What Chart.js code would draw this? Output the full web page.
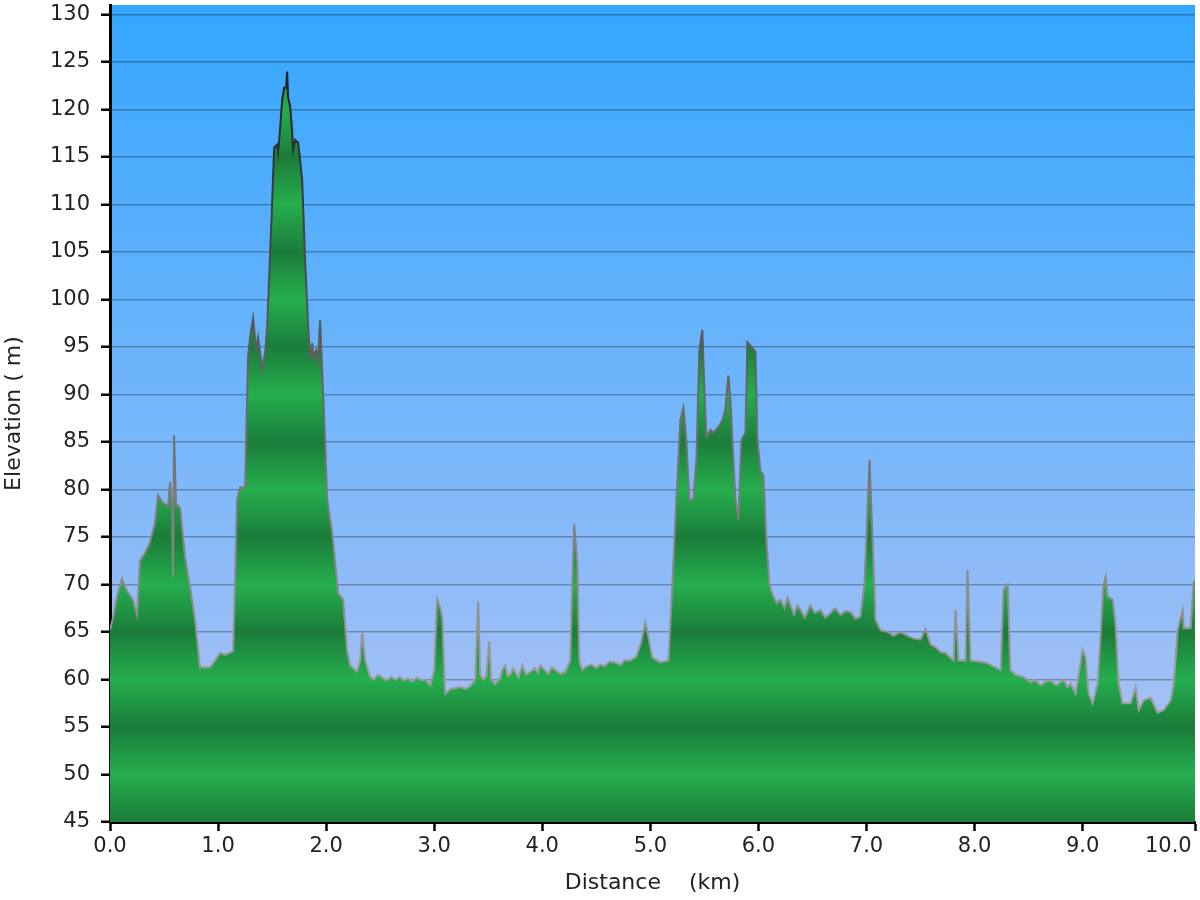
<!DOCTYPE html>
<html>
<head>
<meta charset="utf-8">
<script src="https://cdn.jsdelivr.net/npm/chart.js@4/dist/chart.umd.min.js"></script>
<style>
  html, body { margin: 0; padding: 0; background: #fff; }
  #wrap { width: 1200px; height: 900px; }
</style>
</head>
<body>
<div id="wrap"><canvas id="chart" width="1200" height="900"></canvas></div>
<script>
// distance along the route (km)
const distances = [
  0.000, 0.028, 0.065, 0.111, 0.157, 0.213, 0.250, 0.278, 0.324, 0.370,
  0.417, 0.444, 0.481, 0.537, 0.556, 0.574, 0.583, 0.593, 0.611, 0.648,
  0.694, 0.741, 0.787, 0.833, 0.926, 0.972, 1.019, 1.065, 1.139, 1.157,
  1.176, 1.204, 1.250, 1.278, 1.296, 1.324, 1.352, 1.370, 1.389, 1.407,
  1.435, 1.454, 1.481, 1.500, 1.519, 1.546, 1.556, 1.574, 1.593, 1.611,
  1.630, 1.639, 1.648, 1.667, 1.685, 1.694, 1.713, 1.741, 1.759, 1.778,
  1.806, 1.833, 1.852, 1.870, 1.880, 1.907, 1.926, 1.944, 1.963, 1.991,
  2.009, 2.056, 2.111, 2.157, 2.194, 2.222, 2.287, 2.315, 2.333, 2.361,
  2.407, 2.440, 2.480, 2.520, 2.560, 2.600, 2.640, 2.680, 2.720, 2.760,
  2.800, 2.840, 2.880, 2.920, 2.963, 3.000, 3.028, 3.056, 3.074, 3.102,
  3.148, 3.200, 3.241, 3.290, 3.333, 3.380, 3.407, 3.426, 3.450, 3.481,
  3.509, 3.528, 3.565, 3.611, 3.630, 3.657, 3.680, 3.704, 3.730, 3.750,
  3.780, 3.815, 3.850, 3.889, 3.930, 3.960, 3.981, 4.020, 4.056, 4.090,
  4.120, 4.170, 4.213, 4.259, 4.278, 4.296, 4.324, 4.343, 4.370, 4.398,
  4.450, 4.500, 4.537, 4.580, 4.620, 4.676, 4.720, 4.760, 4.815, 4.870,
  4.917, 4.954, 4.981, 5.019, 5.093, 5.167, 5.204, 5.241, 5.278, 5.306,
  5.333, 5.361, 5.398, 5.426, 5.454, 5.481, 5.500, 5.519, 5.556, 5.583,
  5.630, 5.667, 5.694, 5.722, 5.741, 5.759, 5.787, 5.815, 5.843, 5.880,
  5.898, 5.935, 5.972, 5.991, 6.019, 6.046, 6.074, 6.102, 6.130, 6.170,
  6.204, 6.240, 6.270, 6.296, 6.330, 6.360, 6.389, 6.430, 6.481, 6.520,
  6.574, 6.620, 6.667, 6.710, 6.760, 6.810, 6.852, 6.900, 6.944, 6.981,
  7.000, 7.028, 7.056, 7.083, 7.130, 7.200, 7.250, 7.315, 7.380, 7.440,
  7.500, 7.546, 7.593, 7.640, 7.685, 7.730, 7.778, 7.806, 7.824, 7.852,
  7.917, 7.935, 7.963, 8.102, 8.241, 8.269, 8.306, 8.333, 8.380, 8.450,
  8.519, 8.560, 8.611, 8.660, 8.704, 8.760, 8.824, 8.860, 8.889, 8.935,
  9.000, 9.028, 9.056, 9.093, 9.139, 9.167, 9.194, 9.213, 9.231, 9.278,
  9.306, 9.333, 9.370, 9.444, 9.491, 9.519, 9.565, 9.630, 9.694, 9.750,
  9.815, 9.843, 9.880, 9.926, 9.935, 10.000, 10.028, 10.040
];

// elevation (m)
const elevations = [
  65.2, 66.5, 68.7, 70.6, 69.3, 68.4, 66.8, 72.5, 73.3, 74.4,
  76.5, 79.4, 78.7, 78.2, 80.8, 78.0, 70.8, 85.7, 78.5, 78.0,
  72.9, 69.7, 66.3, 61.3, 61.3, 62.0, 62.8, 62.6, 63.0, 70.0,
  78.9, 80.2, 80.2, 94.0, 96.0, 98.0, 94.7, 96.0, 94.4, 92.6,
  94.4, 97.0, 104.7, 110.0, 116.0, 116.3, 115.4, 118.0, 121.0, 122.3,
  122.3, 124.0, 121.3, 120.3, 117.8, 115.7, 116.8, 116.5, 114.7, 112.6,
  104.0, 97.5, 93.6, 95.4, 94.0, 94.7, 93.6, 97.8, 92.6, 85.0,
  79.0, 75.4, 69.1, 68.4, 63.1, 61.5, 60.8, 62.0, 64.9, 62.0,
  60.3, 60.0, 60.5, 60.2, 59.9, 60.3, 60.0, 60.3, 59.9, 60.1,
  59.8, 60.2, 59.9, 60.0, 59.4, 61.0, 68.4, 67.5, 66.5, 58.5,
  59.0, 59.1, 59.2, 59.0, 59.3, 60.0, 68.2, 60.5, 60.0, 60.3,
  64.0, 60.0, 59.5, 60.2, 61.0, 61.5, 60.4, 60.5, 61.2, 60.8,
  60.2, 61.5, 60.5, 60.8, 61.2, 60.7, 61.5, 61.0, 60.6, 61.3,
  61.0, 60.6, 60.8, 62.0, 70.0, 76.3, 72.0, 62.0, 61.0, 61.3,
  61.6, 61.2, 61.6, 61.4, 61.9, 61.8, 61.5, 62.0, 62.0, 62.4,
  64.0, 66.0, 64.5, 62.3, 61.8, 62.0, 70.0, 78.9, 87.3, 88.6,
  85.2, 78.9, 79.0, 83.1, 94.7, 96.8, 90.5, 85.5, 86.3, 86.0,
  86.6, 87.3, 88.4, 92.0, 89.4, 85.2, 79.0, 76.8, 85.2, 86.0,
  95.5, 95.0, 94.5, 85.2, 82.0, 81.5, 74.7, 70.0, 68.9, 68.0,
  68.4, 67.5, 68.6, 67.8, 66.8, 67.8, 67.3, 66.5, 67.8, 67.0,
  67.3, 66.5, 67.0, 67.5, 66.8, 67.2, 67.1, 66.4, 66.6, 70.0,
  74.7, 83.1, 74.7, 66.3, 65.2, 65.0, 64.6, 65.0, 64.6, 64.3,
  64.2, 65.3, 63.7, 63.4, 62.9, 62.8, 62.3, 62.0, 67.3, 62.0,
  62.0, 71.5, 62.0, 61.8, 61.0, 69.4, 70.0, 61.0, 60.5, 60.3,
  59.7, 60.0, 59.4, 59.8, 59.9, 59.4, 60.0, 59.2, 59.6, 58.5,
  63.1, 62.3, 58.5, 57.5, 59.6, 64.8, 69.9, 70.8, 68.7, 68.4,
  65.6, 59.6, 57.5, 57.5, 59.2, 56.8, 57.8, 58.1, 56.5, 56.8,
  57.8, 59.6, 65.2, 67.3, 65.4, 65.4, 70.2, 70.5
];

const xTickValues = [0, 1, 2, 3, 4, 5, 6, 7, 8, 9, 10.04];
const xTickLabels = ['0.0', '1.0', '2.0', '3.0', '4.0', '5.0', '6.0', '7.0', '8.0', '9.0', '10.0        '];
const yTickValues = [45, 50, 55, 60, 65, 70, 75, 80, 85, 90, 95, 100, 105, 110, 115, 120, 125, 130];

const yMin = 45, yMax = 131;
const tickFont = { family: 'DejaVu Sans, Verdana, sans-serif', size: 21 };
const titleFont = { family: 'DejaVu Sans, Verdana, sans-serif', size: 22 };

// sky gradient behind the plot
const skyPlugin = {
  id: 'sky',
  beforeDraw(chart) {
    const { ctx, chartArea } = chart;
    if (!chartArea) return;
    const g = ctx.createLinearGradient(0, chartArea.top, 0, chartArea.bottom);
    g.addColorStop(0, '#33a6ff');
    g.addColorStop(0.5, '#74b6fb');
    g.addColorStop(1, '#b6c4f2');
    ctx.save();
    ctx.fillStyle = g;
    ctx.fillRect(chartArea.left, chartArea.top, chartArea.right - chartArea.left, chartArea.bottom - chartArea.top);
    ctx.restore();
  }
};

// banded green: dark at 45, 55, 65 ... light at 50, 60, 70 ...
function greenFill(context) {
  const chart = context.chart;
  const { ctx, chartArea, scales } = chart;
  if (!chartArea) return '#22a84a';
  const y = scales.y;
  const top = y.getPixelForValue(yMax), bottom = y.getPixelForValue(yMin);
  const g = ctx.createLinearGradient(0, bottom, 0, top);
  for (let v = yMin; v <= yMax; v += 5) {
    const t = (y.getPixelForValue(v) - bottom) / (top - bottom);
    g.addColorStop(Math.min(1, Math.max(0, t)), ((v - 45) / 5) % 2 === 0 ? '#1b7c39' : '#25ae4e');
  }
  return g;
}

function lineColor(context) {
  const chart = context.chart;
  const { ctx, chartArea, scales } = chart;
  if (!chartArea) return '#888';
  const y = scales.y;
  const g = ctx.createLinearGradient(0, y.getPixelForValue(60), 0, y.getPixelForValue(122));
  g.addColorStop(0, '#9c9c9c');
  g.addColorStop(0.5, '#666666');
  g.addColorStop(1, '#222222');
  return g;
}

new Chart(document.getElementById('chart'), {
  type: 'line',
  data: {
    datasets: [{
      data: distances.map((d, i) => ({ x: d, y: elevations[i] })),
      borderColor: lineColor,
      backgroundColor: greenFill,
      borderWidth: 2,
      fill: 'start',
      tension: 0,
      pointRadius: 0
    }]
  },
  plugins: [skyPlugin],
  options: {
    responsive: false,
    animation: false,
    layout: { padding: { top: 5, right: 5, left: 0, bottom: 0 } },
    plugins: { legend: { display: false }, tooltip: { enabled: false } },
    scales: {
      x: {
        type: 'linear',
        min: 0,
        max: 10.04,
        afterBuildTicks: scale => { scale.ticks = xTickValues.map(v => ({ value: v })); },
        afterFit: scale => { scale.height = 78; scale.paddingLeft = 0; scale.paddingRight = 0; },
        ticks: {
          autoSkip: false,
          maxRotation: 0,
          padding: 3,
          color: '#222',
          font: tickFont,
          callback: (value, index) => xTickLabels[index]
        },
        grid: { drawOnChartArea: false, tickLength: 9, tickColor: '#000', tickWidth: 2.5 },
        border: { color: '#000', width: 3 },
        title: { display: true, text: 'Distance    (km)', color: '#222', font: titleFont, padding: { top: 4, bottom: 4 } }
      },
      y: {
        min: yMin,
        max: yMax,
        z: 1,
        afterBuildTicks: scale => { scale.ticks = yTickValues.map(v => ({ value: v })); },
        afterFit: scale => { scale.width = 110; scale.paddingTop = 0; scale.paddingBottom = 0; },
        ticks: { padding: 11, color: '#222', font: tickFont },
        grid: { color: 'rgba(0,0,0,0.28)', lineWidth: 1.5, tickLength: 9, tickColor: '#000', tickWidth: 2.5 },
        border: { color: '#000', width: 3 },
        title: { display: true, text: 'Elevation ( m)', color: '#222', font: titleFont, padding: { top: 1, bottom: 4 } }
      }
    }
  }
});
</script>
</body>
</html>
